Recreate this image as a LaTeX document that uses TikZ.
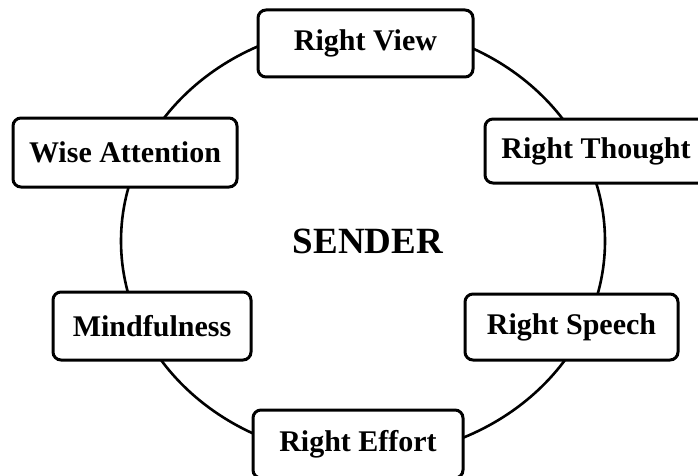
\documentclass[tikz,border=0pt]{standalone}
\usepackage{fontspec}
\setmainfont{Liberation Serif}
\begin{document}
\begin{tikzpicture}[x=1pt,y=1pt,
  pathbox/.style={draw=black, line width=3pt, fill=white, rounded corners=8pt,
    font=\bfseries\fontsize{30}{36}\selectfont, inner sep=0pt, align=center},
  ring/.style={draw=black, line width=2.6pt}]
  \useasboundingbox (0,0) rectangle (698,475);

  % the ring that joins the eight factors
  \draw[ring] (363,234) ellipse [x radius=242, y radius=216];

  % centre label
  \node[font=\bfseries\fontsize{37}{44}\selectfont] (sender) at (368,234) {SENDER};

  % factor boxes placed round the ring
  \node[pathbox, minimum width=215pt, minimum height=67pt] (view)    at (365.5,431.5) {Right View};
  \node[pathbox, minimum width=222pt, minimum height=64pt] (thought) at (596,324)     {Right Thought};
  \node[pathbox, minimum width=224pt, minimum height=69pt] (wise)    at (125,322.5)   {Wise Attention};
  \node[pathbox, minimum width=198pt, minimum height=68pt] (mind)    at (152,149)     {Mindfulness};
  \node[pathbox, minimum width=213pt, minimum height=66pt] (speech)  at (571.5,148)   {Right Speech};
  \node[pathbox, minimum width=210pt, minimum height=68pt] (effort)  at (358,31)      {Right Effort};
\end{tikzpicture}
\end{document}
